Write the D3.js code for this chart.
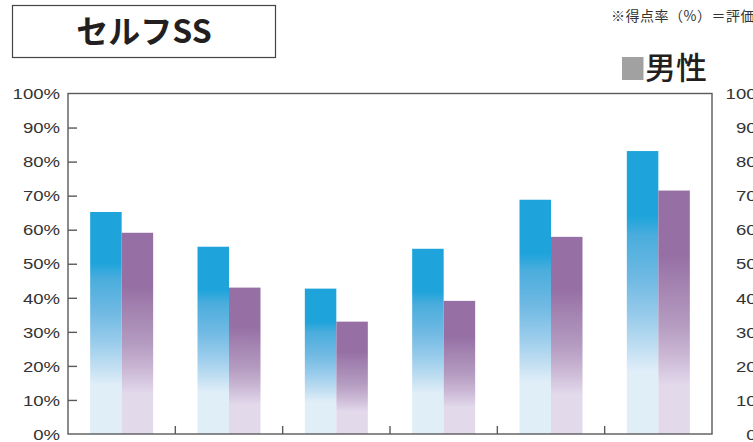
<!DOCTYPE html>
<html>
<head>
<meta charset="utf-8">
<script src="https://cdn.jsdelivr.net/npm/d3@7"></script>
<style>
  html, body { margin: 0; padding: 0; background: #fff; overflow: hidden; }
  svg { display: block; }
</style>
</head>
<body>
<svg id="chart" width="753" height="442"></svg>
<script>
// Score rate (%) per evaluation group, two series
const categories = ["A", "B", "C", "D", "E", "F"];
const seriesNames = ["blue", "purple"];
const blueValues = [65.2, 55.0, 42.7, 54.4, 68.8, 83.1];
const purpleValues = [59.1, 43.0, 33.0, 39.1, 57.9, 71.5];
const tickValues = [0, 10, 20, 30, 40, 50, 60, 70, 80, 90, 100];
const titleText = "セルフSS";
const noteText = "※得点率（%）＝評価点÷満点×100";
const legendText = "男性";

const svg = d3.select("#chart");
const plotLeft = 68, plotRight = 712, plotTop = 93.5, plotBottom = 434;

const y = d3.scaleLinear().domain([0, 100]).range([plotBottom, plotTop]);
const x0 = d3.scaleBand().domain(categories).range([plotLeft, plotRight])
  .paddingInner(0.413).paddingOuter(0.2065);
const x1 = d3.scaleBand().domain(seriesNames).range([0, x0.bandwidth()]);

// vertical fades, relative to each bar
const defs = svg.append("defs");
function fade(id, stops) {
  const g = defs.append("linearGradient").attr("id", id)
    .attr("x1", 0).attr("y1", 0).attr("x2", 0).attr("y2", 1);
  stops.forEach(([o, c]) => g.append("stop").attr("offset", o).attr("stop-color", c));
}
fade("gBlue", [[0, "#1ea4db"], [0.23, "#1ea4db"], [0.30, "#4aaddd"], [0.45, "#6fb9e3"],
               [0.58, "#97cbeb"], [0.70, "#c2dff2"], [0.78, "#e0eef8"], [1, "#e0eef8"]]);
fade("gPurple", [[0, "#9670a5"], [0.27, "#9670a5"], [0.40, "#a585b2"], [0.55, "#b49bc0"],
                 [0.68, "#cbb8d5"], [0.80, "#e2d9eb"], [1, "#e2d9eb"]]);

// title box
svg.append("rect").attr("x", 12.5).attr("y", 5.5).attr("width", 263).attr("height", 52)
  .attr("fill", "#fff").attr("stroke", "#444").attr("stroke-width", 1.2);
svg.append("text").attr("x", 144).attr("y", 43).attr("text-anchor", "middle")
  .attr("font-family", "'Noto Sans CJK JP', sans-serif").attr("font-weight", 700)
  .attr("font-size", 32).attr("fill", "#231f20").text(titleText);

// note
svg.append("text").attr("x", 611).attr("y", 21)
  .attr("font-family", "'Noto Sans CJK JP', sans-serif")
  .attr("font-size", 14).attr("letter-spacing", 0.5).attr("fill", "#333").text(noteText);

// legend
svg.append("rect").attr("x", 622).attr("y", 57).attr("width", 21.5).attr("height", 23)
  .attr("fill", "#a1a1a1");
svg.append("text").attr("x", 645).attr("y", 79)
  .attr("font-family", "'Noto Sans CJK JP', sans-serif").attr("font-weight", 500)
  .attr("font-size", 31).attr("fill", "#231f20").text(legendText);

// bars
const rows = categories.map((c, i) => ({ c, vals: [blueValues[i], purpleValues[i]] }));
const grp = svg.append("g").selectAll("g").data(rows).join("g")
  .attr("transform", d => `translate(${x0(d.c)},0)`);
grp.selectAll("rect").data(d => d.vals.map((v, j) => ({ s: seriesNames[j], v })))
  .join("rect")
  .attr("x", d => x1(d.s))
  .attr("width", x1.bandwidth())
  .attr("y", d => y(d.v))
  .attr("height", d => y(0) - y(d.v))
  .attr("fill", d => d.s === "blue" ? "url(#gBlue)" : "url(#gPurple)");

// frame
const frameColor = "#5a5a5a";
svg.append("rect").attr("x", plotLeft).attr("y", plotTop)
  .attr("width", plotRight - plotLeft).attr("height", plotBottom - plotTop)
  .attr("fill", "none").attr("stroke", frameColor).attr("stroke-width", 1.4);

// left axis with inward ticks
const fmt = d => d + "%";
const yAxis = svg.append("g").attr("transform", `translate(${plotLeft},0)`)
  .call(d3.axisRight(y).tickValues(tickValues).tickSize(9).tickFormat(fmt));
yAxis.select(".domain").remove();
yAxis.selectAll(".tick line").attr("stroke", frameColor).attr("stroke-width", 1.4)
  .filter(d => d === 0 || d === 100).remove();
yAxis.selectAll(".tick text")
  .attr("x", null).attr("dy", "0.36em")
  .attr("text-anchor", "end")
  .attr("transform", "translate(-8,0) scale(1.28,1)")
  .attr("font-family", "'Liberation Sans', Arial, sans-serif")
  .attr("font-size", 14.5).attr("fill", "#333");

// category separators on the baseline
const seps = categories.slice(1).map(c => x0(c) - x0.step() * x0.paddingInner() / 2);
svg.append("g").selectAll("line").data(seps).join("line")
  .attr("x1", d => d).attr("x2", d => d)
  .attr("y1", plotBottom - 8).attr("y2", plotBottom)
  .attr("stroke", frameColor).attr("stroke-width", 1.4);

// neighbouring panel's scale labels
const yAxis2 = svg.append("g").attr("transform", "translate(773,0)")
  .call(d3.axisLeft(y).tickValues(tickValues).tickSize(0).tickFormat(fmt));
yAxis2.select(".domain").remove();
yAxis2.selectAll(".tick text")
  .attr("x", null).attr("dy", "0.36em")
  .attr("text-anchor", "end")
  .attr("transform", "scale(1.28,1)")
  .attr("font-family", "'Liberation Sans', Arial, sans-serif")
  .attr("font-size", 14.5).attr("fill", "#333");
</script>
</body>
</html>
